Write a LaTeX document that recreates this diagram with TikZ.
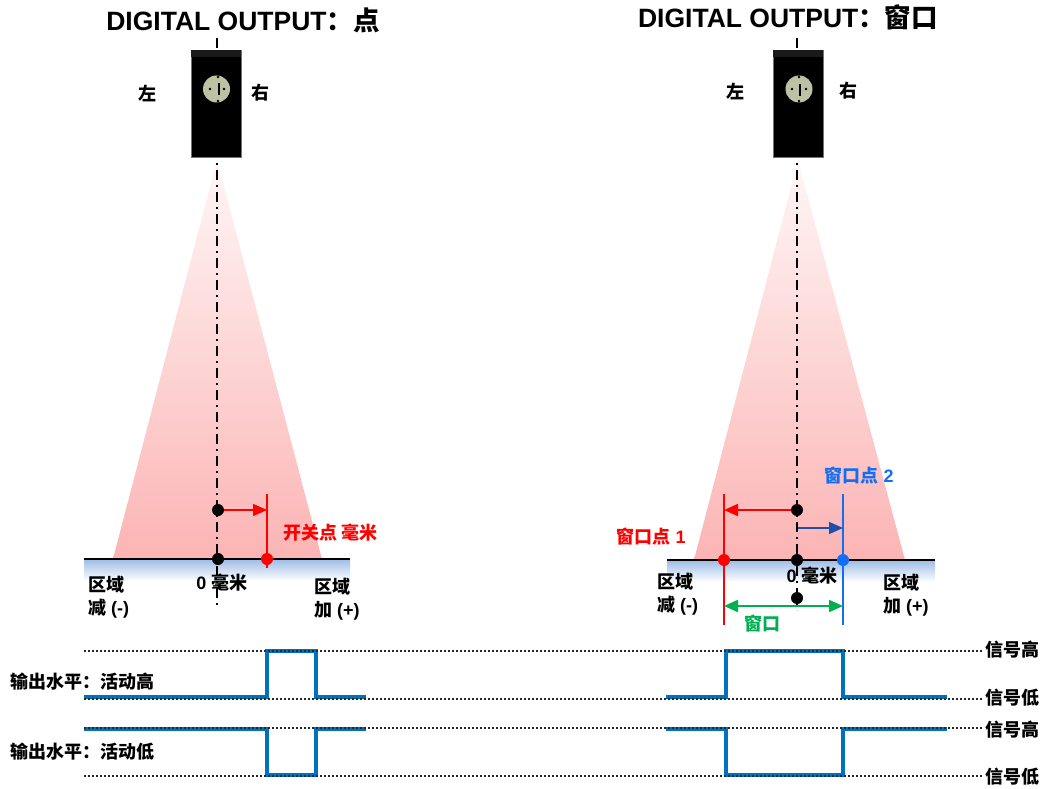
\documentclass[tikz,border=0pt]{standalone}
\usepackage{fontspec}
\setmainfont{Liberation Sans}
\newfontfamily\cjk{Noto Sans CJK SC}
\newcommand\zh[1]{{\cjk #1}}
\usetikzlibrary{arrows.meta}

\definecolor{sigblue}{RGB}{0,112,192}
\definecolor{beampink}{RGB}{252,180,180}
\definecolor{floorblue}{RGB}{158,188,230}
\definecolor{ptred}{RGB}{255,0,0}
\definecolor{ptblue}{RGB}{20,110,245}
\definecolor{arrblue}{RGB}{30,80,170}
\definecolor{wingreen}{RGB}{0,176,80}
\definecolor{lensgray}{RGB}{190,194,165}

\begin{document}
\begin{tikzpicture}[x=1pt,y=-1pt,
	lbl/.style={font=\fontsize{18}{23}\selectfont\bfseries,inner sep=0pt},
	ttl/.style={font=\fontsize{26.5}{30}\selectfont\bfseries,inner sep=0pt},
	axis/.style={line width=2pt,dash pattern=on 10pt off 5pt on 2pt off 5pt},
	dot/.style={circle,fill=black,inner sep=0pt,minimum size=12pt},
	sensor/.style={fill=black,draw=black!55,line width=0.6pt,minimum width=50pt,minimum height=107pt,inner sep=0pt},
	lens/.style={circle,fill=lensgray,inner sep=0pt,minimum size=27pt},
	beam/.style={top color=beampink!12,bottom color=beampink},
	tip/.style={-{Triangle[length=14pt,width=12pt]},line width=1.5pt},
	level/.style={line width=1.5pt,dash pattern=on 1.5pt off 2.5pt,black!85},
	signal/.style={sigblue,line width=3.5pt},
	]
	\useasboundingbox (0,0) rectangle (1042,789);

	% switch point, left
	\node[ttl] (ttlL) at (243,20) {DIGITAL OUTPUT\zh{：点}};
	\shade[beam] (217,160) -- (322,559) -- (113,559) -- cycle;
	\shade[top color=floorblue,bottom color=white] (84,559) rectangle (350,581);
	\draw[line width=2pt] (84,559) -- (350,559);
	\draw[axis] (217,38) -- (217,607);
	\node[sensor] (senL) at (216,103.5) {};
	\fill[black!90] (senL.north west) rectangle ++(50,7);
	\node[lens] (lensL) at (216.5,89) {};
	\fill (218,77) circle (1.3) (218,101) circle (1.3) (210,89) circle (1.3) (224,89) circle (1.3);
	\draw[line width=1.2pt] (219,83) -- (219,95);
	\node[lbl] (leftL) at (147,93) {\zh{左}};
	\node[lbl] (rightL) at (260,93) {\zh{右}};

	\node[dot] (pL) at (218,510) {};
	\node[dot] (zL) at (218,559) {};
	\coordinate (swTopL) at (267,494);
	\coordinate (swBotL) at (267,568);
	\draw[ptred,line width=2pt] (swTopL) -- (swBotL);
	\node[dot,fill=ptred] (swL) at (267,559) {};
	\draw[tip,ptred] (pL) -- (pL -| swL);
	\node[lbl,ptred,anchor=west] (swLbl) at (283,533) {\zh{开关点 毫米}};
	\node[lbl] (zeroL) at (222,583) {0 \zh{毫米}};
	\node[lbl,align=left,anchor=west] (minusL) at (88,597) {\zh{区域}\\\zh{减} (-)};
	\node[lbl,align=left,anchor=west] (plusL) at (314,599) {\zh{区域}\\\zh{加} (+)};

	% window, right
	\node[ttl] (ttlR) at (788,17) {DIGITAL OUTPUT\zh{：窗口}};
	\shade[beam] (798,160) -- (905,560) -- (694,560) -- cycle;
	\shade[top color=floorblue,bottom color=white] (667,560) rectangle (935,582);
	\draw[line width=2pt] (667,560) -- (935,560);
	\draw[axis] (797,38) -- (797,610);
	\node[sensor] (senR) at (798.5,103.5) {};
	\fill[black!90] (senR.north west) rectangle ++(50,7);
	\node[lens] (lensR) at (799,89) {};
	\fill (799,77) circle (1.3) (799,101) circle (1.3) (792,89) circle (1.3) (806,89) circle (1.3);
	\draw[line width=1.2pt] (800,84) -- (800,96);
	\node[lbl] (leftR) at (735,91) {\zh{左}};
	\node[lbl] (rightR) at (848,91) {\zh{右}};

	\node[dot] (pR) at (797,510) {};
	\node[dot] (zR) at (797,560) {};
	\node[dot] (wR) at (797,598) {};
	\coordinate (w1Top) at (724,494);
	\coordinate (w1Bot) at (724,625);
	\coordinate (w2Top) at (843,494);
	\coordinate (w2Bot) at (843,625);
	\draw[ptred,line width=2pt] (w1Top) -- (w1Bot);
	\draw[ptblue,line width=2pt] (w2Top) -- (w2Bot);
	\node[dot,fill=ptred] (w1) at (724,560) {};
	\node[dot,fill=ptblue] (w2) at (843,560) {};
	\coordinate (b2) at (798,528);
	\draw[tip,ptred] (pR) -- (pR -| w1);
	\draw[tip,arrblue] (b2) -- (b2 -| w2);
	\coordinate (g1) at (724,606);
	\coordinate (g2) at (843,606);
	\draw[wingreen,line width=2pt,{Triangle[length=14pt,width=12pt]}-{Triangle[length=14pt,width=12pt]}] (g1) -- (g2);
	\node[lbl,ptred] (w1Lbl) at (651,537) {\zh{窗口点} 1};
	\node[lbl,ptblue] (w2Lbl) at (859,476) {\zh{窗口点} 2};
	\node[lbl,wingreen] (winLbl) at (762,624) {\zh{窗口}};
	\node[lbl] (zeroR) at (812,576) {0 \zh{毫米}};
	\node[lbl,align=left,anchor=west] (minusR) at (657,594) {\zh{区域}\\\zh{减} (-)};
	\node[lbl,align=left,anchor=west] (plusR) at (883,595) {\zh{区域}\\\zh{加} (+)};

	% output signals
	\draw[signal] (84,697) -- (267,697) -- (267,651) -- (316,651) -- (316,697) -- (366,697);
	\draw[signal] (84,729) -- (267,729) -- (267,775) -- (316,775) -- (316,729) -- (366,729);
	\draw[signal] (666,697) -- (726,697) -- (726,651) -- (843,651) -- (843,697) -- (947,697);
	\draw[signal] (666,729) -- (726,729) -- (726,775) -- (843,775) -- (843,729) -- (947,729);
	\foreach \y in {651,699,728,776}
		\draw[level] (84,\y) -- (982,\y);
	\node[lbl,anchor=west] (hi1) at (985,650) {\zh{信号高}};
	\node[lbl,anchor=west] (lo1) at (985,698) {\zh{信号低}};
	\node[lbl,anchor=west] (hi2) at (985,730) {\zh{信号高}};
	\node[lbl,anchor=west] (lo2) at (985,777) {\zh{信号低}};
	\node[lbl,anchor=west] (actHi) at (10,682) {\zh{输出水平：活动高}};
	\node[lbl,anchor=west] (actLo) at (10,752) {\zh{输出水平：活动低}};
\end{tikzpicture}
\end{document}
